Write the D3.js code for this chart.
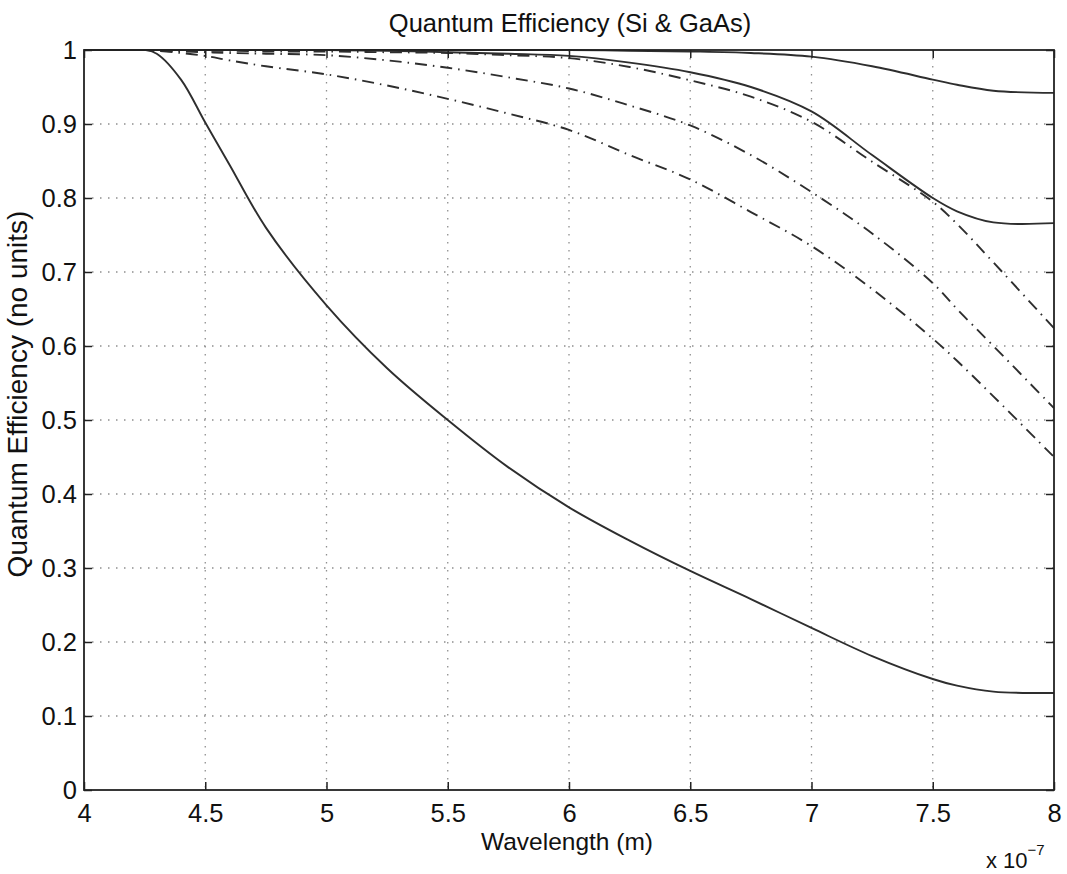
<!DOCTYPE html>
<html>
<head>
<meta charset="utf-8">
<script src="https://cdn.jsdelivr.net/npm/d3@7"></script>
<style>
  body { margin: 0; background: #fff; }
  svg { font-family: "Liberation Sans", Arial, Helvetica, sans-serif; }
</style>
</head>
<body>
<script>
// wavelength samples (units of 1e-7 m)
const wavelengths = [4.0, 4.25, 4.3, 4.4, 4.5, 4.6, 4.75, 5.0, 5.25, 5.5, 5.75, 6.0, 6.25, 6.5, 6.75, 7.0, 7.25, 7.5, 7.6, 7.75, 8.0];

// quantum efficiency curves
const qeTop = [1, 1, 1, 1, 1, 1, 1, 1, 1, 1, 1, 1, 0.999, 0.998, 0.996, 0.991, 0.978, 0.960, 0.953, 0.945, 0.942];
const qeMid = [1, 1, 1, 1, 1, 1, 1, 1, 0.999, 0.997, 0.995, 0.992, 0.983, 0.970, 0.950, 0.917, 0.858, 0.800, 0.782, 0.767, 0.766];
const qeDashA = [1, 1, 0.999, 0.999, 0.999, 0.999, 0.998, 0.998, 0.997, 0.996, 0.993, 0.989, 0.977, 0.959, 0.937, 0.903, 0.849, 0.795, 0.765, 0.713, 0.624];
const qeDashB = [1, 1, 0.999, 0.998, 0.997, 0.996, 0.995, 0.993, 0.986, 0.976, 0.963, 0.948, 0.925, 0.898, 0.858, 0.808, 0.752, 0.685, 0.650, 0.600, 0.516];
const qeDashC = [1, 1, 0.999, 0.996, 0.992, 0.986, 0.978, 0.967, 0.952, 0.934, 0.914, 0.892, 0.858, 0.825, 0.781, 0.735, 0.677, 0.610, 0.580, 0.532, 0.450];
const qeBottom = [1, 1, 0.995, 0.96, 0.902, 0.845, 0.760, 0.655, 0.57, 0.5, 0.436, 0.382, 0.337, 0.296, 0.258, 0.219, 0.181, 0.150, 0.141, 0.133, 0.131];

// tick values
const xTicks = [4, 4.5, 5, 5.5, 6, 6.5, 7, 7.5, 8];
const yTicks = [0, 0.1, 0.2, 0.3, 0.4, 0.5, 0.6, 0.7, 0.8, 0.9, 1];

const series = [
  { values: qeTop, style: 'solid' },
  { values: qeMid, style: 'solid' },
  { values: qeDashA, style: 'dashdot' },
  { values: qeDashB, style: 'dashdot' },
  { values: qeDashC, style: 'dashdot' },
  { values: qeBottom, style: 'solid' },
];

// constants
const width = 1067;
const height = 874;
const margin = { top: 50, right: 13, bottom: 84, left: 84 };
const innerW = width - margin.left - margin.right;
const innerH = height - margin.top - margin.bottom;

const svg = d3.select('body').append('svg')
  .attr('width', width)
  .attr('height', height);

const x = d3.scaleLinear().domain([4, 8]).range([0, innerW]);
const y = d3.scaleLinear().domain([0, 1]).range([innerH, 0]);

const g = svg.append('g').attr('transform', `translate(${margin.left},${margin.top})`);

// dotted grid
g.append('g').selectAll('line')
  .data(xTicks.slice(1, -1))
  .join('line')
  .attr('x1', (d) => x(d)).attr('x2', (d) => x(d))
  .attr('y1', 0).attr('y2', innerH)
  .attr('stroke', '#8f8f8f')
  .attr('stroke-width', 1.3)
  .attr('stroke-dasharray', '1.5,6.5');

g.append('g').selectAll('line')
  .data(yTicks.slice(1, -1))
  .join('line')
  .attr('x1', 0).attr('x2', innerW)
  .attr('y1', (d) => y(d)).attr('y2', (d) => y(d))
  .attr('stroke', '#8f8f8f')
  .attr('stroke-width', 1.3)
  .attr('stroke-dasharray', '1.5,6.5');

// curves
svg.append('clipPath').attr('id', 'plot-clip')
  .append('rect')
  .attr('x', 0).attr('y', -1)
  .attr('width', innerW).attr('height', innerH + 2);

const line = d3.line()
  .x((d) => x(d[0]))
  .y((d) => y(d[1]))
  .curve(d3.curveCatmullRom.alpha(0.5));

g.append('g').attr('clip-path', 'url(#plot-clip)')
  .selectAll('path')
  .data(series)
  .join('path')
  .attr('d', (s) => line(wavelengths.map((w, i) => [w, s.values[i]])))
  .attr('fill', 'none')
  .attr('stroke', '#2e2e2e')
  .attr('stroke-width', 1.9)
  .attr('stroke-dasharray', (s) => (s.style === 'dashdot' ? '12,6,1.5,6' : null));

// axes (box with inward ticks on all four sides)
const tickLen = 8;
g.append('g')
  .attr('transform', `translate(0,${innerH})`)
  .call(d3.axisBottom(x).tickValues(xTicks).tickSize(-tickLen).tickPadding(14).tickFormat(d3.format('')))
  .call((a) => a.select('.domain').remove());
g.append('g')
  .call(d3.axisTop(x).tickValues(xTicks).tickSize(-tickLen).tickFormat(''))
  .call((a) => a.select('.domain').remove());
g.append('g')
  .call(d3.axisLeft(y).tickValues(yTicks).tickSize(-tickLen).tickPadding(7).tickFormat(d3.format('')))
  .call((a) => a.select('.domain').remove());
g.append('g')
  .attr('transform', `translate(${innerW},0)`)
  .call(d3.axisRight(y).tickValues(yTicks).tickSize(-tickLen).tickFormat(''))
  .call((a) => a.select('.domain').remove());

g.selectAll('.tick line').attr('stroke', '#222').attr('stroke-width', 1.5);
g.selectAll('.tick text')
  .attr('fill', '#111')
  .attr('font-family', '"Liberation Sans", Arial, sans-serif')
  .attr('font-size', 25.5);

g.append('rect')
  .attr('width', innerW)
  .attr('height', innerH)
  .attr('fill', 'none')
  .attr('stroke', '#222')
  .attr('stroke-width', 1.8);

// title and labels
svg.append('text')
  .attr('x', 570).attr('y', 32)
  .attr('text-anchor', 'middle')
  .attr('font-size', 25.5)
  .attr('fill', '#111')
  .text('Quantum Efficiency (Si & GaAs)');

svg.append('text')
  .attr('x', 567).attr('y', 850)
  .attr('text-anchor', 'middle')
  .attr('font-size', 24.5)
  .attr('fill', '#111')
  .text('Wavelength (m)');

svg.append('text')
  .attr('transform', 'translate(27,394) rotate(-90)')
  .attr('text-anchor', 'middle')
  .attr('font-size', 28)
  .attr('fill', '#111')
  .text('Quantum Efficiency (no units)');

const expo = svg.append('text')
  .attr('x', 986).attr('y', 868)
  .attr('font-size', 22)
  .attr('fill', '#111');
expo.append('tspan').text('x 10');
expo.append('tspan').attr('dy', -13).attr('font-size', 15).text('−7');
</script>
</body>
</html>
